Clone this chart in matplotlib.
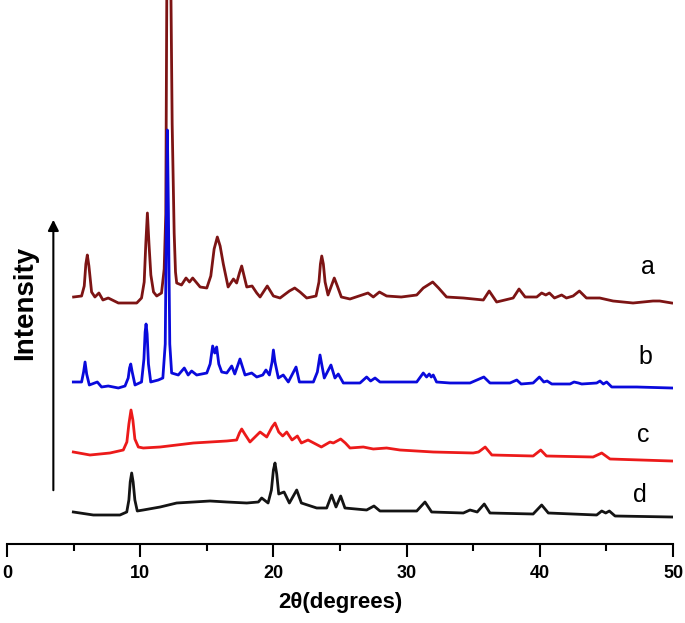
import matplotlib
matplotlib.use("Agg")
import matplotlib.pyplot as plt
import numpy as np

plt.rcParams['font.family'] = ['Liberation Sans', 'DejaVu Sans']

# ---- data (2theta in degrees, intensity in arbitrary units) ----
a_x = [5.0, 5.6, 5.8, 5.92, 6.03, 6.15, 6.35, 6.6, 6.9, 7.2, 7.6, 8.36, 9.74, 10.1, 10.3, 10.42,
       10.54, 10.66, 10.8, 11.0, 11.24, 11.6, 11.8, 11.92, 12.0, 12.3, 12.4, 12.55, 12.65, 12.74,
       13.1, 13.44, 13.7, 13.94, 14.5, 15.0, 15.3, 15.55, 15.79, 16.0, 16.24, 16.6, 17.0,
       17.24, 17.45, 17.62, 17.8, 18.0, 18.4, 18.75, 19.0, 19.54, 20.0, 20.5, 21.2, 21.6, 22.0,
       22.5, 23.2, 23.42, 23.53, 23.63, 23.75, 23.88, 24.1, 24.35, 24.57, 24.8, 25.1, 25.75,
       27.1, 27.5, 27.96, 28.5, 29.6, 30.76, 31.25, 31.96, 32.4, 33.0, 34.26, 35.76, 36.2,
       36.76, 38.0, 38.44, 38.9, 39.77, 40.14, 40.45, 40.72, 41.1, 41.64, 42.0, 42.5, 42.97,
       43.5, 44.5, 45.5, 47.0, 48.5, 49.0, 49.9]
a_y = [247, 248, 258, 280, 289, 278, 252, 247, 251, 244, 246, 241, 241, 246, 262, 300,
       331, 300, 269, 252, 248, 251, 275, 330, 560, 560, 420, 311, 272, 261,
       259, 266, 262, 266, 257, 256, 268, 295, 307, 298, 280, 257, 265,
       261, 271, 278, 268, 257, 258, 251, 247, 258, 248, 246, 253, 256, 252,
       246, 248, 262, 280, 288, 280, 262, 249, 258, 266, 258, 247, 245,
       251, 247, 252, 248, 247, 249, 256, 262, 256, 247, 246, 244, 253,
       242, 246, 255, 247, 247, 251, 249, 251, 246, 249, 246, 248, 253,
       246, 246, 243, 241, 243, 243, 241]

b_x = [4.98, 5.6, 5.75, 5.86, 5.98, 6.18, 6.78, 7.1, 7.6, 8.36, 8.86, 9.1, 9.2, 9.29, 9.4,
       9.61, 10.1, 10.28, 10.37, 10.44, 10.52, 10.62, 10.79, 11.36, 11.7, 11.88, 11.97, 12.04,
       12.12, 12.22, 12.36, 12.86, 13.31, 13.6, 13.86, 14.24, 15.0, 15.25, 15.44, 15.6, 15.74,
       15.9, 16.12, 16.5, 16.87, 17.1, 17.49, 17.87, 18.37, 18.75, 19.2, 19.44, 19.7, 19.9,
       20.0, 20.12, 20.37, 20.74, 21.12, 21.7, 21.95, 23.0, 23.3, 23.5, 23.65, 23.82, 24.32,
       24.62, 24.87, 25.25, 26.5, 27.0, 27.3, 27.63, 28.0, 30.76, 31.25, 31.5, 31.7, 31.85,
       32.0, 32.25, 33.26, 34.76, 35.8, 36.26, 37.76, 38.27, 38.6, 39.5, 39.97, 40.3, 40.55,
       40.9, 42.27, 42.57, 42.9, 43.15, 44.27, 44.52, 44.77, 45.02, 45.4, 47.27, 49.9]
b_y = [162, 162, 172, 182, 170, 159, 162, 157, 158, 156, 158, 166, 176, 180, 172,
       159, 162, 185, 212, 220, 210, 180, 162, 164, 166, 200, 330, 414,
       330, 200, 171, 169, 176, 169, 173, 169, 171, 180, 198, 191, 197,
       180, 172, 171, 178, 170, 185, 169, 171, 167, 169, 174, 169, 182,
       194, 182, 166, 169, 162, 177, 162, 162, 172, 189, 178, 166, 179,
       166, 170, 161, 161, 167, 163, 166, 162, 162, 171, 167, 170, 167,
       169, 162, 161, 161, 167, 161, 161, 164, 160, 161, 167, 162, 163,
       160, 160, 162, 161, 160, 161, 163, 160, 162, 157, 157, 156]

c_x = [4.98, 6.23, 7.73, 8.73, 9.0, 9.15, 9.31, 9.45, 9.6, 9.86, 10.23, 11.5, 14.0, 16.5,
       17.24, 17.45, 17.62, 17.85, 18.24, 19.0, 19.5, 19.9, 20.12, 20.4, 20.7, 21.0, 21.4,
       21.8, 22.1, 22.6, 23.6, 24.25, 24.5, 25.05, 25.4, 25.75, 26.75, 27.5, 28.5, 29.5, 32.0,
       35.0, 35.4, 35.9, 36.4, 39.5, 40.07, 40.5, 44.0, 44.65, 45.27, 49.9]
c_y = [92, 89, 91, 94, 102, 120, 134, 124, 105, 97, 96, 97, 101, 103,
       104, 111, 115, 110, 102, 112, 107, 117, 121, 112, 108, 112, 104,
       108, 101, 104, 97, 102, 101, 105, 101, 96, 97, 95, 96, 94, 92,
       91, 92, 97, 89, 88, 94, 88, 87, 91, 85, 83]

d_x = [4.98, 6.48, 8.48, 8.99, 9.15, 9.25, 9.36, 9.47, 9.6, 9.78, 10.23, 11.5, 12.74, 14.0,
       15.24, 16.5, 18.0, 18.87, 19.12, 19.6, 19.85, 20.0, 20.12, 20.25, 20.4, 20.8, 21.2,
       21.75, 22.1, 23.25, 24.0, 24.37, 24.7, 25.05, 25.37, 27.0, 27.55, 28.0, 30.76, 31.38,
       31.88, 34.26, 34.76, 35.3, 35.83, 36.26, 39.5, 40.14, 40.64, 44.27, 44.65, 44.95,
       45.22, 45.65, 49.9]
d_y = [32, 29, 29, 32, 44, 62, 71, 62, 44, 33, 34, 37, 41, 42,
       43, 42, 41, 42, 46, 41, 54, 74, 81, 70, 50, 52, 41,
       54, 41, 36, 36, 49, 37, 48, 36, 34, 38, 33, 33, 42,
       32, 31, 34, 32, 40, 31, 30, 39, 31, 29, 33, 31,
       33, 28, 27]

labels = ['a', 'b', 'c', 'd']
label_x = [48.15, 47.9, 47.8, 47.5]
label_y = [277, 187, 109, 49]
colors = ['#7d1414', '#0a0adc', '#ec1a1a', '#141414']

xticks = [0, 10, 20, 30, 40, 50]

fig = plt.figure(figsize=(6.85, 6.23), dpi=100)
ax = fig.add_axes([7/685, 79/623, 666/685, 544/623])

for xs, ys, col in zip([a_x, b_x, c_x, d_x], [a_y, b_y, c_y, d_y], colors):
    ax.plot(xs, ys, color=col, lw=2.0, solid_joinstyle='round')

for lab, lx, ly in zip(labels, label_x, label_y):
    ax.text(lx, ly, lab, fontsize=18, ha='center', va='center', color='black')

ax.set_xlim(0, 50)
ax.set_ylim(0, 544)
ax.set_xticks(xticks)
ax.set_xticklabels([str(t) for t in xticks], fontsize=13, fontweight='bold')
ax.set_xticks([5, 15, 25, 35, 45], minor=True)
ax.tick_params(axis='x', which='major', direction='out', length=9, width=1.5, pad=6)
ax.tick_params(axis='x', which='minor', direction='out', length=5, width=1.5)
ax.set_yticks([])
for s in ['left', 'top', 'right']:
    ax.spines[s].set_visible(False)
ax.spines['bottom'].set_linewidth(1.5)

ax.set_xlabel('2θ(degrees)', fontsize=16, fontweight='bold', labelpad=7)

ax.annotate('', xy=(3.48, 327), xytext=(3.48, 51),
            arrowprops=dict(arrowstyle='-|>', lw=1.5, color='black', mutation_scale=16),
            annotation_clip=False)
ax.text(1.35, 241, 'Intensity', rotation=90, fontsize=20, fontweight='bold',
        ha='center', va='center', clip_on=False)

fig.savefig('out.png', dpi=100)
